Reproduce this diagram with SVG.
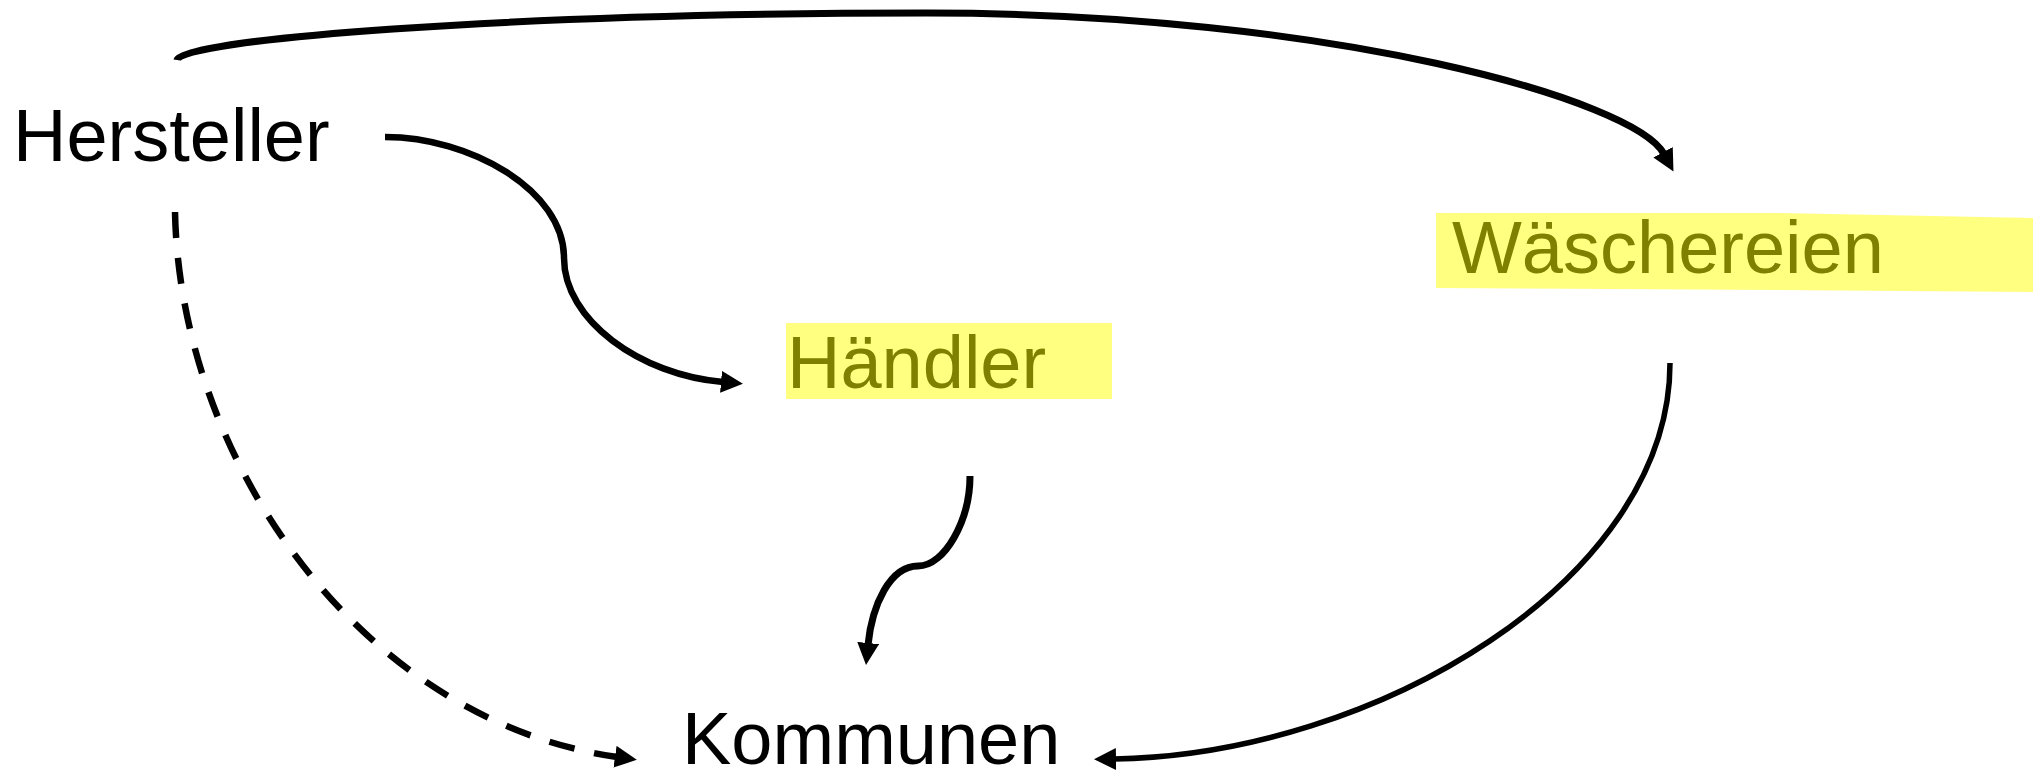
<svg xmlns="http://www.w3.org/2000/svg" width="2033" height="772" viewBox="0 0 2033 772">
<style>
.lbl{font-family:"Liberation Sans",Arial,sans-serif;font-size:74px;fill:#000}
.hl{fill:#808000}
.bg{fill:#FFFF80}
.c{fill:none;stroke:#000;stroke-width:6.5}
.d{stroke-dasharray:26 20}
</style>
<defs>
<marker id="ah" markerUnits="userSpaceOnUse" markerWidth="24" markerHeight="24" refX="2" refY="11" orient="auto">
<path d="M0,0 L22,11 L0,22 Z" fill="#000"/>
</marker>
</defs>
<g id="connectors">
<path class="c" style="stroke-width:7" d="M177 60 C180 40 500 13 927 13 C1330 13 1635 100 1664 154" marker-end="url(#ah)"/>
<path class="c" d="M385 137 C470 137 564 190 564 258 C564 320 640 375 723 382" marker-end="url(#ah)"/>
<path class="c" style="stroke-width:7" d="M970 476 C970 520 945 566 918 566 C890 566 872 605 868 645" marker-end="url(#ah)"/>
<path class="c" style="stroke-width:5.5" d="M1670 363 C1670 580 1375 755 1114 759" marker-end="url(#ah)"/>
<path class="c d" d="M175 212 C180 460 360 720 617 757" marker-end="url(#ah)"/>
</g>
<g id="hersteller">
<text class="lbl" x="13" y="161">Hersteller</text>
</g>
<g id="haendler">
<rect class="bg" x="786" y="323" width="326" height="76"/>
<text class="lbl hl" x="787" y="388">Händler</text>
</g>
<g id="waeschereien">
<polygon class="bg" points="1436,213 1780,213 2033,218 2033,292 1780,290 1436,288"/>
<text class="lbl hl" x="1452" y="273">Wäschereien</text>
</g>
<g id="kommunen">
<text class="lbl" x="682" y="764">Kommunen</text>
</g>
</svg>
